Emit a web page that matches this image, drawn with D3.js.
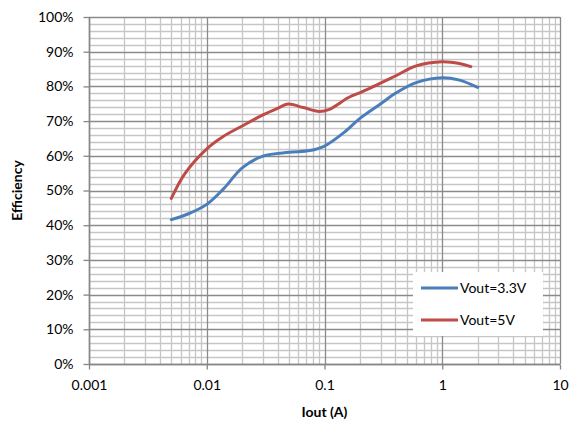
<!DOCTYPE html>
<html><head><meta charset="utf-8">
<script src="https://cdn.jsdelivr.net/npm/d3@7"></script>
<style>body{margin:0;background:#fff}svg{display:block}text{font-family:Lato,"Open Sans",sans-serif;fill:#000}</style>
</head><body><svg id="c" width="570" height="423"></svg>
<script>
const xTicks = [0.001, 0.01, 0.1, 1, 10];
const xTickLabels = ["0.001", "0.01", "0.1", "1", "10"];
const yTicks = [0, 0.1, 0.2, 0.3, 0.4, 0.5, 0.6, 0.7, 0.8, 0.9, 1.0];
const seriesNames = ["Vout=3.3V", "Vout=5V"];
const seriesColors = ["#4a7ebb", "#be4b48"];
const blueX = [0.005, 0.007, 0.01, 0.014, 0.02, 0.03, 0.05, 0.075, 0.1, 0.15, 0.2, 0.3, 0.4, 0.6, 1.0, 1.4, 2.0];
const blueY = [41.6, 43.3, 46.0, 50.6, 56.5, 59.9, 61.0, 61.5, 62.8, 67.0, 70.8, 75.0, 78.0, 81.1, 82.5, 81.8, 79.7];
const redX = [0.005, 0.0065, 0.01, 0.0137, 0.02, 0.03, 0.04, 0.049, 0.066, 0.09, 0.11, 0.16, 0.21, 0.4, 0.6, 1.0, 1.4, 1.75];
const redY = [47.7, 54.8, 62.0, 65.5, 68.6, 71.8, 73.7, 74.9, 73.9, 72.8, 73.4, 76.8, 78.5, 83.0, 85.9, 87.1, 86.6, 85.7];

const svg = d3.select("#c");
const L = 89, R = 560, T = 17, B = 364;
const x = d3.scaleLog().domain([0.001, 10]).range([L, R]);
const y = d3.scaleLinear().domain([0, 1]).range([B, T]);

// minor grid
const minorX = [];
for (let d = 0.001; d < 10; d *= 10) for (let k = 2; k <= 9; k++) minorX.push(+(d * k).toPrecision(3));
const minorY = d3.range(0, 101, 2).map(v => v / 100).filter(v => Math.round(v * 100) % 10 !== 0);
const g = svg.append("g");
g.selectAll(".mx").data(minorX).join("line")
  .attr("x1", d => Math.round(x(d)) + 0.5).attr("x2", d => Math.round(x(d)) + 0.5)
  .attr("y1", T).attr("y2", B).attr("stroke", "#c6c6c6").attr("stroke-width", 1.3);
g.selectAll(".my").data(minorY).join("line")
  .attr("y1", d => Math.round(y(d)) + 0.5).attr("y2", d => Math.round(y(d)) + 0.5)
  .attr("x1", L).attr("x2", R).attr("stroke", "#c6c6c6").attr("stroke-width", 1.3);
g.selectAll(".Mx").data(xTicks).join("line")
  .attr("x1", d => Math.round(x(d)) + 0.5).attr("x2", d => Math.round(x(d)) + 0.5)
  .attr("y1", T).attr("y2", B).attr("stroke", "#8a8a8a").attr("stroke-width", 1.3);
g.selectAll(".My").data(yTicks).join("line")
  .attr("y1", d => Math.round(y(d)) + 0.5).attr("y2", d => Math.round(y(d)) + 0.5)
  .attr("x1", L).attr("x2", R).attr("stroke", "#8a8a8a").attr("stroke-width", 1.3);

// axes
const xAxis = d3.axisBottom(x).tickValues(xTicks).tickFormat((d, i) => xTickLabels[i]).tickSize(5).tickPadding(11);
const yAxis = d3.axisLeft(y).tickValues(yTicks).tickFormat(d3.format(".0%")).tickSize(6).tickPadding(10);
const xa = svg.append("g").attr("transform", `translate(0,${B + 0.5})`).call(xAxis);
const ya = svg.append("g").attr("transform", `translate(${L + 0.5},0)`).call(yAxis);
[xa, ya].forEach(a => {
  a.select(".domain").attr("stroke", "#868686").attr("stroke-width", 1.5);
  a.selectAll(".tick line").attr("stroke", "#868686").attr("stroke-width", 1.3);
  a.selectAll("text").attr("font-size", 14).attr("font-family", "Lato, 'Open Sans', sans-serif").attr("fill", "#000");
});
ya.select(".domain").attr("d", `M0,${T}V${B}`);
xa.select(".domain").attr("d", `M${L},0H${R}`);

// lines
const line = d3.line().x(d => x(d[0])).y(d => y(d[1] / 100)).curve(d3.curveCatmullRom.alpha(0.5));
const series = [d3.zip(blueX, blueY), d3.zip(redX, redY)];
series.forEach((s, i) => {
  svg.append("path").datum(s).attr("d", line).attr("fill", "none")
    .attr("stroke", seriesColors[i]).attr("stroke-width", 3).attr("stroke-linecap", "round");
});

// legend
const lg = svg.append("g");
lg.append("rect").attr("x", 413).attr("y", 272).attr("width", 130).attr("height", 64).attr("fill", "#fff");
seriesNames.forEach((n, i) => {
  const yy = 288 + i * 32;
  lg.append("line").attr("x1", 421).attr("x2", 458).attr("y1", yy).attr("y2", yy)
    .attr("stroke", seriesColors[i]).attr("stroke-width", 3);
  lg.append("text").attr("x", 460).attr("y", yy).attr("dy", "0.35em").attr("font-size", 14).text(n);
});

// titles
svg.append("text").attr("x", (L + R) / 2).attr("y", 417).attr("text-anchor", "middle")
  .attr("font-size", 14).attr("font-weight", "bold").text("Iout (A)");
svg.append("text").attr("transform", `translate(22,${(T + B) / 2}) rotate(-90)`).attr("text-anchor", "middle")
  .attr("font-size", 14).attr("font-weight", "bold").text("Efficiency");
</script></body></html>
